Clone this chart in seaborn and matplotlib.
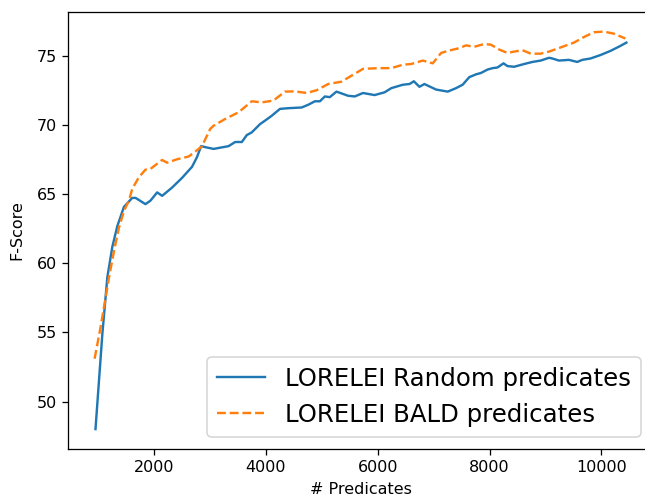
import matplotlib
matplotlib.use("Agg")
import matplotlib.pyplot as plt
import seaborn as sns
import pandas as pd

x_random = [951, 1074, 1163, 1252, 1341, 1460, 1608, 1668, 1845, 1934, 2054, 2143,
            2321, 2499, 2677, 2766, 2840, 2945, 3063, 3331, 3450, 3569, 3657, 3747,
            3895, 3984, 4103, 4251, 4400, 4638, 4757, 4875, 4965, 5053, 5142, 5261,
            5469, 5588, 5736, 5943, 6122, 6241, 6449, 6568, 6645, 6745, 6834, 7043,
            7251, 7399, 7518, 7637, 7756, 7845, 7964, 8053, 8142, 8249, 8320, 8439,
            8617, 8766, 8914, 9063, 9122, 9241, 9419, 9568, 9657, 9805, 9983, 10161,
            10310, 10447]
f_random = [48.0, 54.9, 59.0, 61.2, 62.7, 64.1, 64.75, 64.75, 64.3, 64.55, 65.15, 64.9,
            65.5, 66.2, 67.0, 67.7, 68.5, 68.4, 68.3, 68.5, 68.8, 68.8, 69.3, 69.5,
            70.1, 70.35, 70.7, 71.2, 71.25, 71.3, 71.5, 71.75, 71.75, 72.1, 72.05, 72.45,
            72.15, 72.1, 72.35, 72.2, 72.4, 72.7, 72.95, 73.0, 73.2, 72.8, 73.0, 72.6,
            72.45, 72.7, 72.95, 73.5, 73.7, 73.8, 74.05, 74.15, 74.2, 74.5, 74.3, 74.25,
            74.45, 74.6, 74.7, 74.9, 74.85, 74.7, 74.75, 74.6, 74.75, 74.85, 75.1, 75.4,
            75.7, 76.0]

x_bald = [935, 1043, 1133, 1193, 1282, 1371, 1460, 1549, 1608, 1727, 1845, 1934,
          2143, 2232, 2410, 2618, 2766, 2856, 3003, 3064, 3271, 3509, 3747, 3925,
          4133, 4340, 4518, 4727, 4905, 5113, 5350, 5528, 5736, 6004, 6241, 6449,
          6597, 6805, 6983, 7132, 7251, 7459, 7578, 7726, 7905, 8023, 8171, 8320,
          8439, 8588, 8736, 8914, 9063, 9270, 9508, 9686, 9864, 10042, 10220, 10428]
f_bald = [53.1, 55.4, 57.55, 59.0, 60.9, 62.6, 63.8, 64.55, 65.4, 66.25, 66.8, 66.85,
          67.5, 67.3, 67.55, 67.75, 68.2, 68.5, 69.75, 69.98, 70.47, 70.95, 71.75, 71.67,
          71.8, 72.45, 72.47, 72.35, 72.55, 73.0, 73.17, 73.6, 74.1, 74.15, 74.15, 74.4,
          74.45, 74.7, 74.5, 75.25, 75.4, 75.6, 75.8, 75.7, 75.9, 75.85, 75.5, 75.25,
          75.35, 75.45, 75.2, 75.2, 75.35, 75.65, 76.0, 76.4, 76.75, 76.8, 76.65, 76.3]

label_random = "LORELEI Random predicates"
label_bald = "LORELEI BALD predicates"

df_r = pd.DataFrame({"x": x_random, "y": f_random})
df_b = pd.DataFrame({"x": x_bald, "y": f_bald})

dpi = 115
fig = plt.figure(figsize=(645 / dpi, 498 / dpi), dpi=dpi)
ax = fig.add_axes([68 / 645, 1 - 449 / 498, (653 - 68) / 645, (449 - 11.7) / 498])

sns.lineplot(data=df_r, x="x", y="y", ax=ax, color="#1f77b4", label=label_random)
sns.lineplot(data=df_b, x="x", y="y", ax=ax, color="#ff7f0e", linestyle="--", label=label_bald)

ax.set_xlabel("# Predicates")
ax.set_ylabel("F-Score")
ax.yaxis.set_label_coords((24 - 68) / 585, 0.5)
ax.set_xticks([2000, 4000, 6000, 8000, 10000])
ax.set_yticks([50, 55, 60, 65, 70, 75])
ax.spines["right"].set_visible(False)
ax.legend(loc="lower right", fontsize=15.3)

fig.savefig("out.png", dpi=dpi)
